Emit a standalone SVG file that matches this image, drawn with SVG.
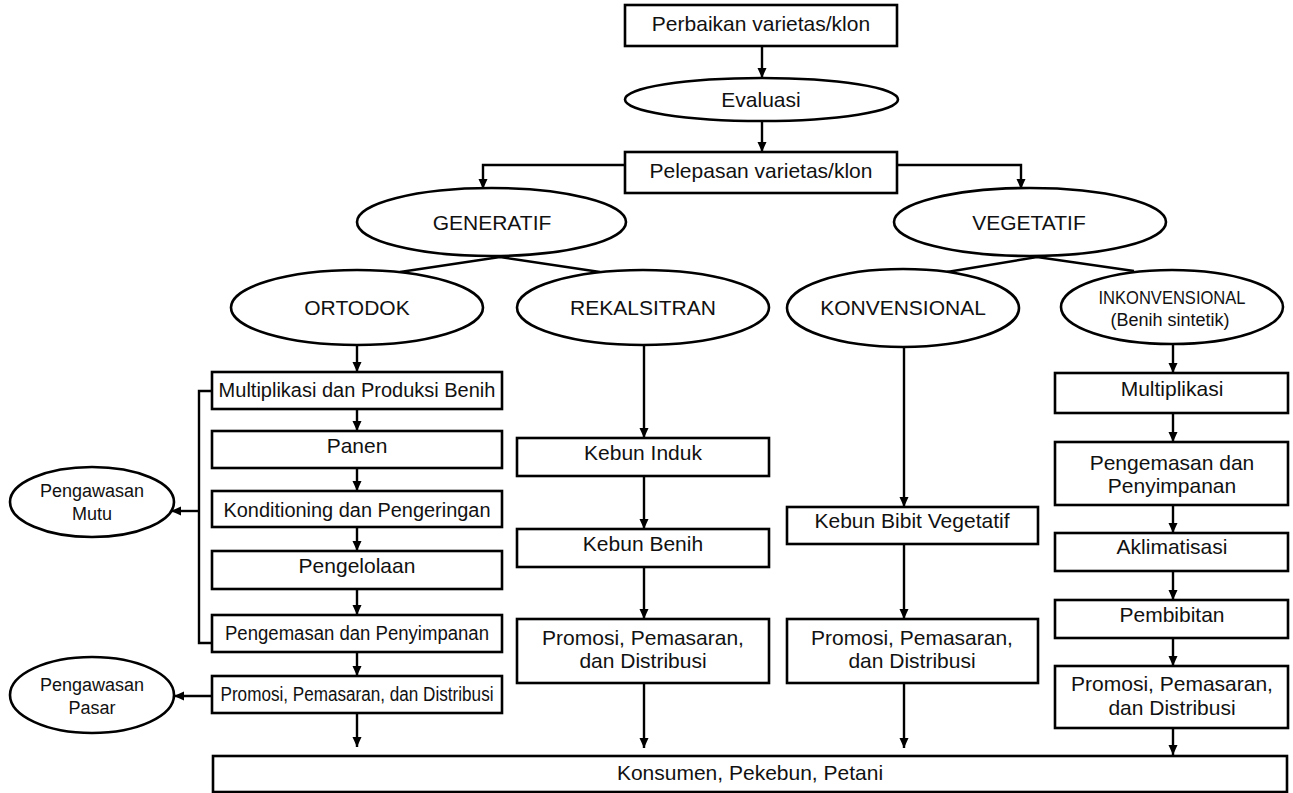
<svg xmlns="http://www.w3.org/2000/svg" width="1293" height="793" viewBox="0 0 1293 793">
<style>
.n{fill:#fff;stroke:#000;stroke-width:2.6}
.c{fill:none;stroke:#000;stroke-width:2.4}
.a{marker-end:url(#ah)}
text{font-family:"Liberation Sans",Arial,sans-serif;font-size:21px;fill:#111;text-anchor:middle}
.s{font-size:18px}
</style>
<defs>
<marker id="ah" markerUnits="userSpaceOnUse" markerWidth="10" markerHeight="10" viewBox="0 0 10 10" refX="10" refY="5" orient="auto">
<path d="M0,0.5 L10,5 L0,9.5 z" fill="#000"/>
</marker>
</defs>
<rect width="1293" height="793" fill="#fff"/>
<g id="connectors">
<path class="c a" d="M762,46 V78"/>
<path class="c a" d="M762,121 V152"/>
<path class="c a" d="M625,165 H483 V189"/>
<path class="c a" d="M897,165 H1021 V189"/>
<path class="c" d="M400,272 L500,257 L600,272"/>
<path class="c" d="M947,272 L1037,257 L1134,271"/>
<path class="c a" d="M357,345 V372"/>
<path class="c a" d="M357,409 V431"/>
<path class="c a" d="M357,468 V491"/>
<path class="c a" d="M357,527 V551"/>
<path class="c a" d="M357,589 V615"/>
<path class="c a" d="M357,652 V676"/>
<path class="c a" d="M357,713 V747"/>
<path class="c" d="M212,391 H199 V643 H212"/>
<path class="c a" d="M199,511 H171"/>
<path class="c a" d="M212,696 H174"/>
<path class="c a" d="M644,345 V438"/>
<path class="c a" d="M644,476 V529"/>
<path class="c a" d="M644,567 V619"/>
<path class="c a" d="M644,683 V748"/>
<path class="c a" d="M904,347 V507"/>
<path class="c a" d="M904,544 V619"/>
<path class="c a" d="M904,683 V748"/>
<path class="c a" d="M1173,344 V373"/>
<path class="c a" d="M1173,413 V442"/>
<path class="c a" d="M1173,505 V533"/>
<path class="c a" d="M1173,571 V600"/>
<path class="c a" d="M1173,638 V666"/>
<path class="c a" d="M1173,728 V755"/>
</g>
<g id="perbaikan"><rect class="n" x="625" y="5" width="272" height="41"/><text x="761" y="31">Perbaikan varietas/klon</text></g>
<g id="evaluasi"><ellipse class="n" cx="761.5" cy="99.5" rx="136.5" ry="21.5"/><text x="761" y="107">Evaluasi</text></g>
<g id="pelepasan"><rect class="n" x="625" y="152" width="272" height="41"/><text x="761" y="178">Pelepasan varietas/klon</text></g>
<g id="generatif"><ellipse class="n" cx="491.5" cy="222" rx="134.5" ry="34"/><text x="492" y="230">GENERATIF</text></g>
<g id="vegetatif"><ellipse class="n" cx="1030" cy="222" rx="136" ry="34"/><text x="1029" y="230">VEGETATIF</text></g>
<g id="ortodok"><ellipse class="n" cx="357" cy="307.5" rx="126" ry="37.5"/><text x="357" y="315">ORTODOK</text></g>
<g id="rekalsitran"><ellipse class="n" cx="643" cy="307.5" rx="126" ry="37.5"/><text x="643" y="315">REKALSITRAN</text></g>
<g id="konvensional"><ellipse class="n" cx="903" cy="308" rx="116" ry="39"/><text x="903" y="315">KONVENSIONAL</text></g>
<g id="inkonvensional"><ellipse class="n" cx="1172" cy="307" rx="111" ry="37"/><text class="s" x="1172" y="304" textLength="147" lengthAdjust="spacingAndGlyphs">INKONVENSIONAL</text><text class="s" x="1170" y="326">(Benih sintetik)</text></g>
<g id="o-multiplikasi"><rect class="n" x="212" y="372" width="290" height="37"/><text x="357" y="397" style="font-size:20px">Multiplikasi dan Produksi Benih</text></g>
<g id="o-panen"><rect class="n" x="212" y="431" width="290" height="37"/><text x="357" y="453">Panen</text></g>
<g id="o-konditioning"><rect class="n" x="212" y="491" width="290" height="36"/><text x="357" y="517" style="font-size:20px" textLength="267" lengthAdjust="spacingAndGlyphs">Konditioning dan Pengeringan</text></g>
<g id="o-pengelolaan"><rect class="n" x="212" y="551" width="290" height="38"/><text x="357" y="573">Pengelolaan</text></g>
<g id="o-pengemasan"><rect class="n" x="212" y="615" width="290" height="37"/><text x="357" y="640" style="font-size:20px" textLength="264" lengthAdjust="spacingAndGlyphs">Pengemasan dan Penyimpanan</text></g>
<g id="o-promosi"><rect class="n" x="212" y="676" width="290" height="37"/><text x="357" y="701" style="font-size:20px" textLength="273" lengthAdjust="spacingAndGlyphs">Promosi, Pemasaran, dan Distribusi</text></g>
<g id="pengawasan-mutu"><ellipse class="n" cx="92" cy="502" rx="82" ry="35"/><text class="s" x="92" y="497">Pengawasan</text><text class="s" x="92" y="520">Mutu</text></g>
<g id="pengawasan-pasar"><ellipse class="n" cx="92" cy="695" rx="82" ry="38"/><text class="s" x="92" y="691">Pengawasan</text><text class="s" x="92" y="714">Pasar</text></g>
<g id="r-kebun-induk"><rect class="n" x="517" y="438" width="252" height="38"/><text x="643" y="460">Kebun Induk</text></g>
<g id="r-kebun-benih"><rect class="n" x="517" y="529" width="252" height="38"/><text x="643" y="551">Kebun Benih</text></g>
<g id="r-promosi"><rect class="n" x="517" y="619" width="252" height="64"/><text x="643" y="645">Promosi, Pemasaran,</text><text x="643" y="668">dan Distribusi</text></g>
<g id="k-kebun-bibit"><rect class="n" x="787" y="507" width="251" height="37"/><text x="912" y="528">Kebun Bibit Vegetatif</text></g>
<g id="k-promosi"><rect class="n" x="787" y="619" width="251" height="64"/><text x="912" y="645">Promosi, Pemasaran,</text><text x="912" y="668">dan Distribusi</text></g>
<g id="i-multiplikasi"><rect class="n" x="1055" y="373" width="233" height="40"/><text x="1172" y="396">Multiplikasi</text></g>
<g id="i-pengemasan"><rect class="n" x="1055" y="442" width="233" height="63"/><text x="1172" y="470">Pengemasan dan</text><text x="1172" y="493">Penyimpanan</text></g>
<g id="i-aklimatisasi"><rect class="n" x="1055" y="533" width="233" height="38"/><text x="1172" y="554">Aklimatisasi</text></g>
<g id="i-pembibitan"><rect class="n" x="1055" y="600" width="233" height="38"/><text x="1172" y="622">Pembibitan</text></g>
<g id="i-promosi"><rect class="n" x="1055" y="666" width="233" height="62"/><text x="1172" y="691">Promosi, Pemasaran,</text><text x="1172" y="715">dan Distribusi</text></g>
<g id="konsumen"><rect class="n" x="213" y="756" width="1074" height="36"/><text x="750" y="780">Konsumen, Pekebun, Petani</text></g>
</svg>
